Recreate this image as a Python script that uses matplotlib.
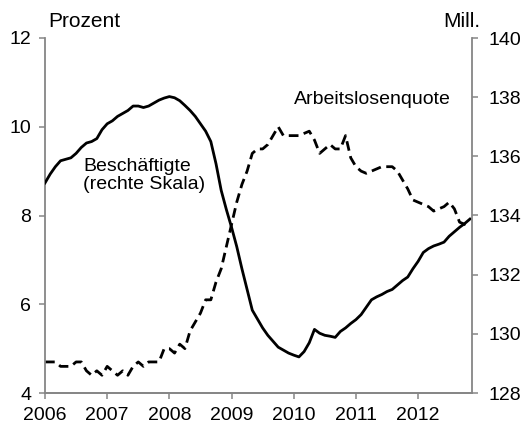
import matplotlib
matplotlib.use("Agg")
import matplotlib.pyplot as plt
import numpy as np

plt.rcParams['font.family'] = ['Liberation Sans', 'DejaVu Sans']

# Monthly data, Jan 2006 - Nov 2012
unemployment = [
    4.7, 4.7, 4.7, 4.6, 4.6, 4.6, 4.7, 4.7, 4.5, 4.4, 4.5, 4.4,      # 2006
    4.6, 4.5, 4.4, 4.5, 4.4, 4.6, 4.7, 4.6, 4.7, 4.7, 4.7, 5.0,      # 2007
    5.0, 4.9, 5.1, 5.0, 5.4, 5.6, 5.8, 6.1, 6.1, 6.5, 6.8, 7.3,      # 2008
    7.8, 8.3, 8.7, 9.0, 9.4, 9.5, 9.5, 9.6, 9.8, 10.0, 9.8, 9.8,     # 2009
    9.8, 9.8, 9.85, 9.9, 9.7, 9.4, 9.5, 9.6, 9.5, 9.5, 9.8, 9.3,     # 2010
    9.1, 9.0, 8.95, 9.0, 9.05, 9.1, 9.1, 9.1, 9.0, 8.8, 8.6, 8.35,   # 2011
    8.3, 8.25, 8.2, 8.1, 8.15, 8.2, 8.3, 8.15, 7.85, 7.8, 7.75,      # 2012
]
employment = [
    135.1, 135.4, 135.65, 135.85, 135.9, 135.95, 136.1, 136.3, 136.45, 136.5, 136.6, 136.9,
    137.1, 137.2, 137.35, 137.45, 137.55, 137.7, 137.7, 137.65, 137.7, 137.8, 137.9, 137.97,
    138.02, 137.98, 137.88, 137.72, 137.55, 137.35, 137.1, 136.85, 136.5, 135.75, 134.85, 134.2,
    133.6, 132.95, 132.2, 131.5, 130.8, 130.5, 130.2, 129.95, 129.75, 129.55, 129.45, 129.35,
    129.28, 129.22, 129.4, 129.7, 130.15, 130.02, 129.95, 129.92, 129.88, 130.08, 130.2, 130.35,
    130.48, 130.65, 130.9, 131.15, 131.25, 131.33, 131.43, 131.5, 131.65, 131.8, 131.92, 132.2,
    132.45, 132.75, 132.88, 132.97, 133.03, 133.1, 133.3, 133.45, 133.6, 133.73, 133.88,
]
years = [2006, 2007, 2008, 2009, 2010, 2011, 2012]
left_ticks = [4, 6, 8, 10, 12]
right_ticks = [128, 130, 132, 134, 136, 138, 140]

x = 2006 + np.arange(len(unemployment)) / 12.0

fig = plt.figure(figsize=(5.21, 4.25), dpi=100)
ax = fig.add_axes([45/521, 1-393/425, (472-45)/521, (393-38)/425])
ax2 = ax.twinx()

gray = '#868686'
ax.plot(x, unemployment, color='black', lw=2.0, linestyle=(0, (3.5, 2)), dash_capstyle='butt')
ax2.plot(x, employment, color='black', lw=2.0, solid_joinstyle='round')

ax.set_xlim(2006, 2006 + 82.4/12)
ax.set_ylim(4, 12)
ax2.set_ylim(128, 140)
ax.set_xticks(years)
ax.set_xticklabels([str(y) for y in years])
ax.set_yticks(left_ticks)
ax2.set_yticks(right_ticks)

fs = 14
for a in (ax, ax2):
    a.spines['top'].set_visible(False)
    for s in ('left', 'right', 'bottom'):
        a.spines[s].set_color(gray)
        a.spines[s].set_linewidth(1.3)
    a.tick_params(colors=gray, labelcolor='black', labelsize=fs, direction='out', length=4, width=1.1)
ax.tick_params(axis='x', pad=6)
ax.tick_params(axis='y', pad=6)
ax2.tick_params(axis='y', pad=8)
ax2.spines['left'].set_visible(False)
ax.spines['right'].set_visible(False)

fig.text(48/521, 1-27/425, 'Prozent', fontsize=15, ha='left', va='baseline')
fig.text(480/521, 1-27/425, 'Mill.', fontsize=15, ha='right', va='baseline')
ax.text(2010.0, 10.61, 'Arbeitslosenquote', fontsize=fs, ha='left', va='center')
ax.text(2006.61, 8.9, 'Beschäftigte\n(rechte Skala)', fontsize=fs, ha='left', va='center', linespacing=1.05)

fig.savefig('out.png', dpi=100)
